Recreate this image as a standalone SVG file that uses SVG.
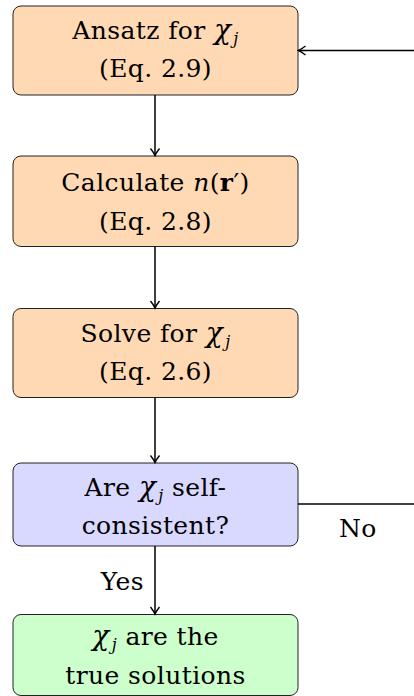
<svg xmlns="http://www.w3.org/2000/svg" width="414" height="696" viewBox="0 0 414 696">
<defs>
<style>
.box{stroke:#222;stroke-width:1;}
.o{fill:#FFD9B3;}
.b{fill:#D9D9FF;}
.g{fill:#CCFFCC;}
text{font-family:"DejaVu Serif","Liberation Serif",serif;font-size:25px;fill:#000;letter-spacing:0.4px;}
.c{text-anchor:middle;}
.i{font-style:italic;font-size:28px;}
.it{font-style:italic;}
.s{font-size:16px;font-style:italic;}
.ln{stroke:#000;stroke-width:1.5;fill:none;}
</style>
<marker id="ah" viewBox="-10 -6 12 12" refX="0" refY="0" markerWidth="12" markerHeight="12" markerUnits="userSpaceOnUse" orient="auto">
<path d="M-7,-4.5 Q-2.5,-1 0,0 Q-2.5,1 -7,4.5" fill="none" stroke="#000" stroke-width="1.4"/>
</marker>
</defs>
<g id="n1">
<rect class="box o" x="13" y="6" width="285" height="89" rx="8"/>
<text class="c" x="155.5" y="39">Ansatz for <tspan class="i">χ</tspan><tspan class="s" dx="2" dy="5">j</tspan></text>
<text class="c" x="155.5" y="77">(Eq. 2.9)</text>
</g>
<g id="n2">
<rect class="box o" x="13" y="156" width="285" height="90.5" rx="8"/>
<text class="c" x="155.5" y="191">Calculate <tspan class="it">n</tspan>(<tspan font-weight="bold">r</tspan>′)</text>
<text class="c" x="155.5" y="230">(Eq. 2.8)</text>
</g>
<g id="n3">
<rect class="box o" x="13" y="308.5" width="285" height="89" rx="8"/>
<text class="c" x="155.5" y="342">Solve for <tspan class="i">χ</tspan><tspan class="s" dx="2" dy="5">j</tspan></text>
<text class="c" x="155.5" y="380">(Eq. 2.6)</text>
</g>
<g id="n4">
<rect class="box b" x="13" y="463" width="285" height="83" rx="8"/>
<text class="c" x="155.5" y="496">Are <tspan class="i">χ</tspan><tspan class="s" dx="2" dy="5">j</tspan><tspan dy="-5"> self-</tspan></text>
<text class="c" x="155.5" y="534">consistent?</text>
</g>
<g id="n5">
<rect class="box g" x="13" y="614.5" width="285" height="81" rx="8"/>
<text class="c" x="155.5" y="645"><tspan class="i">χ</tspan><tspan class="s" dx="2" dy="5">j</tspan><tspan dy="-5"> are the</tspan></text>
<text class="c" x="155.5" y="684">true solutions</text>
</g>
<g id="connectors">
<path class="ln" d="M155,95 V155.5" marker-end="url(#ah)"/>
<path class="ln" d="M155,246.5 V308" marker-end="url(#ah)"/>
<path class="ln" d="M155,397.5 V462.5" marker-end="url(#ah)"/>
<path class="ln" d="M155,546 V614" marker-end="url(#ah)"/>
<path class="ln" d="M298,504 H420"/>
<path class="ln" d="M420,50.5 H298.5" marker-end="url(#ah)"/>
<text x="339" y="537">No</text>
<text x="144" y="590" text-anchor="end">Yes</text>
</g>
</svg>
